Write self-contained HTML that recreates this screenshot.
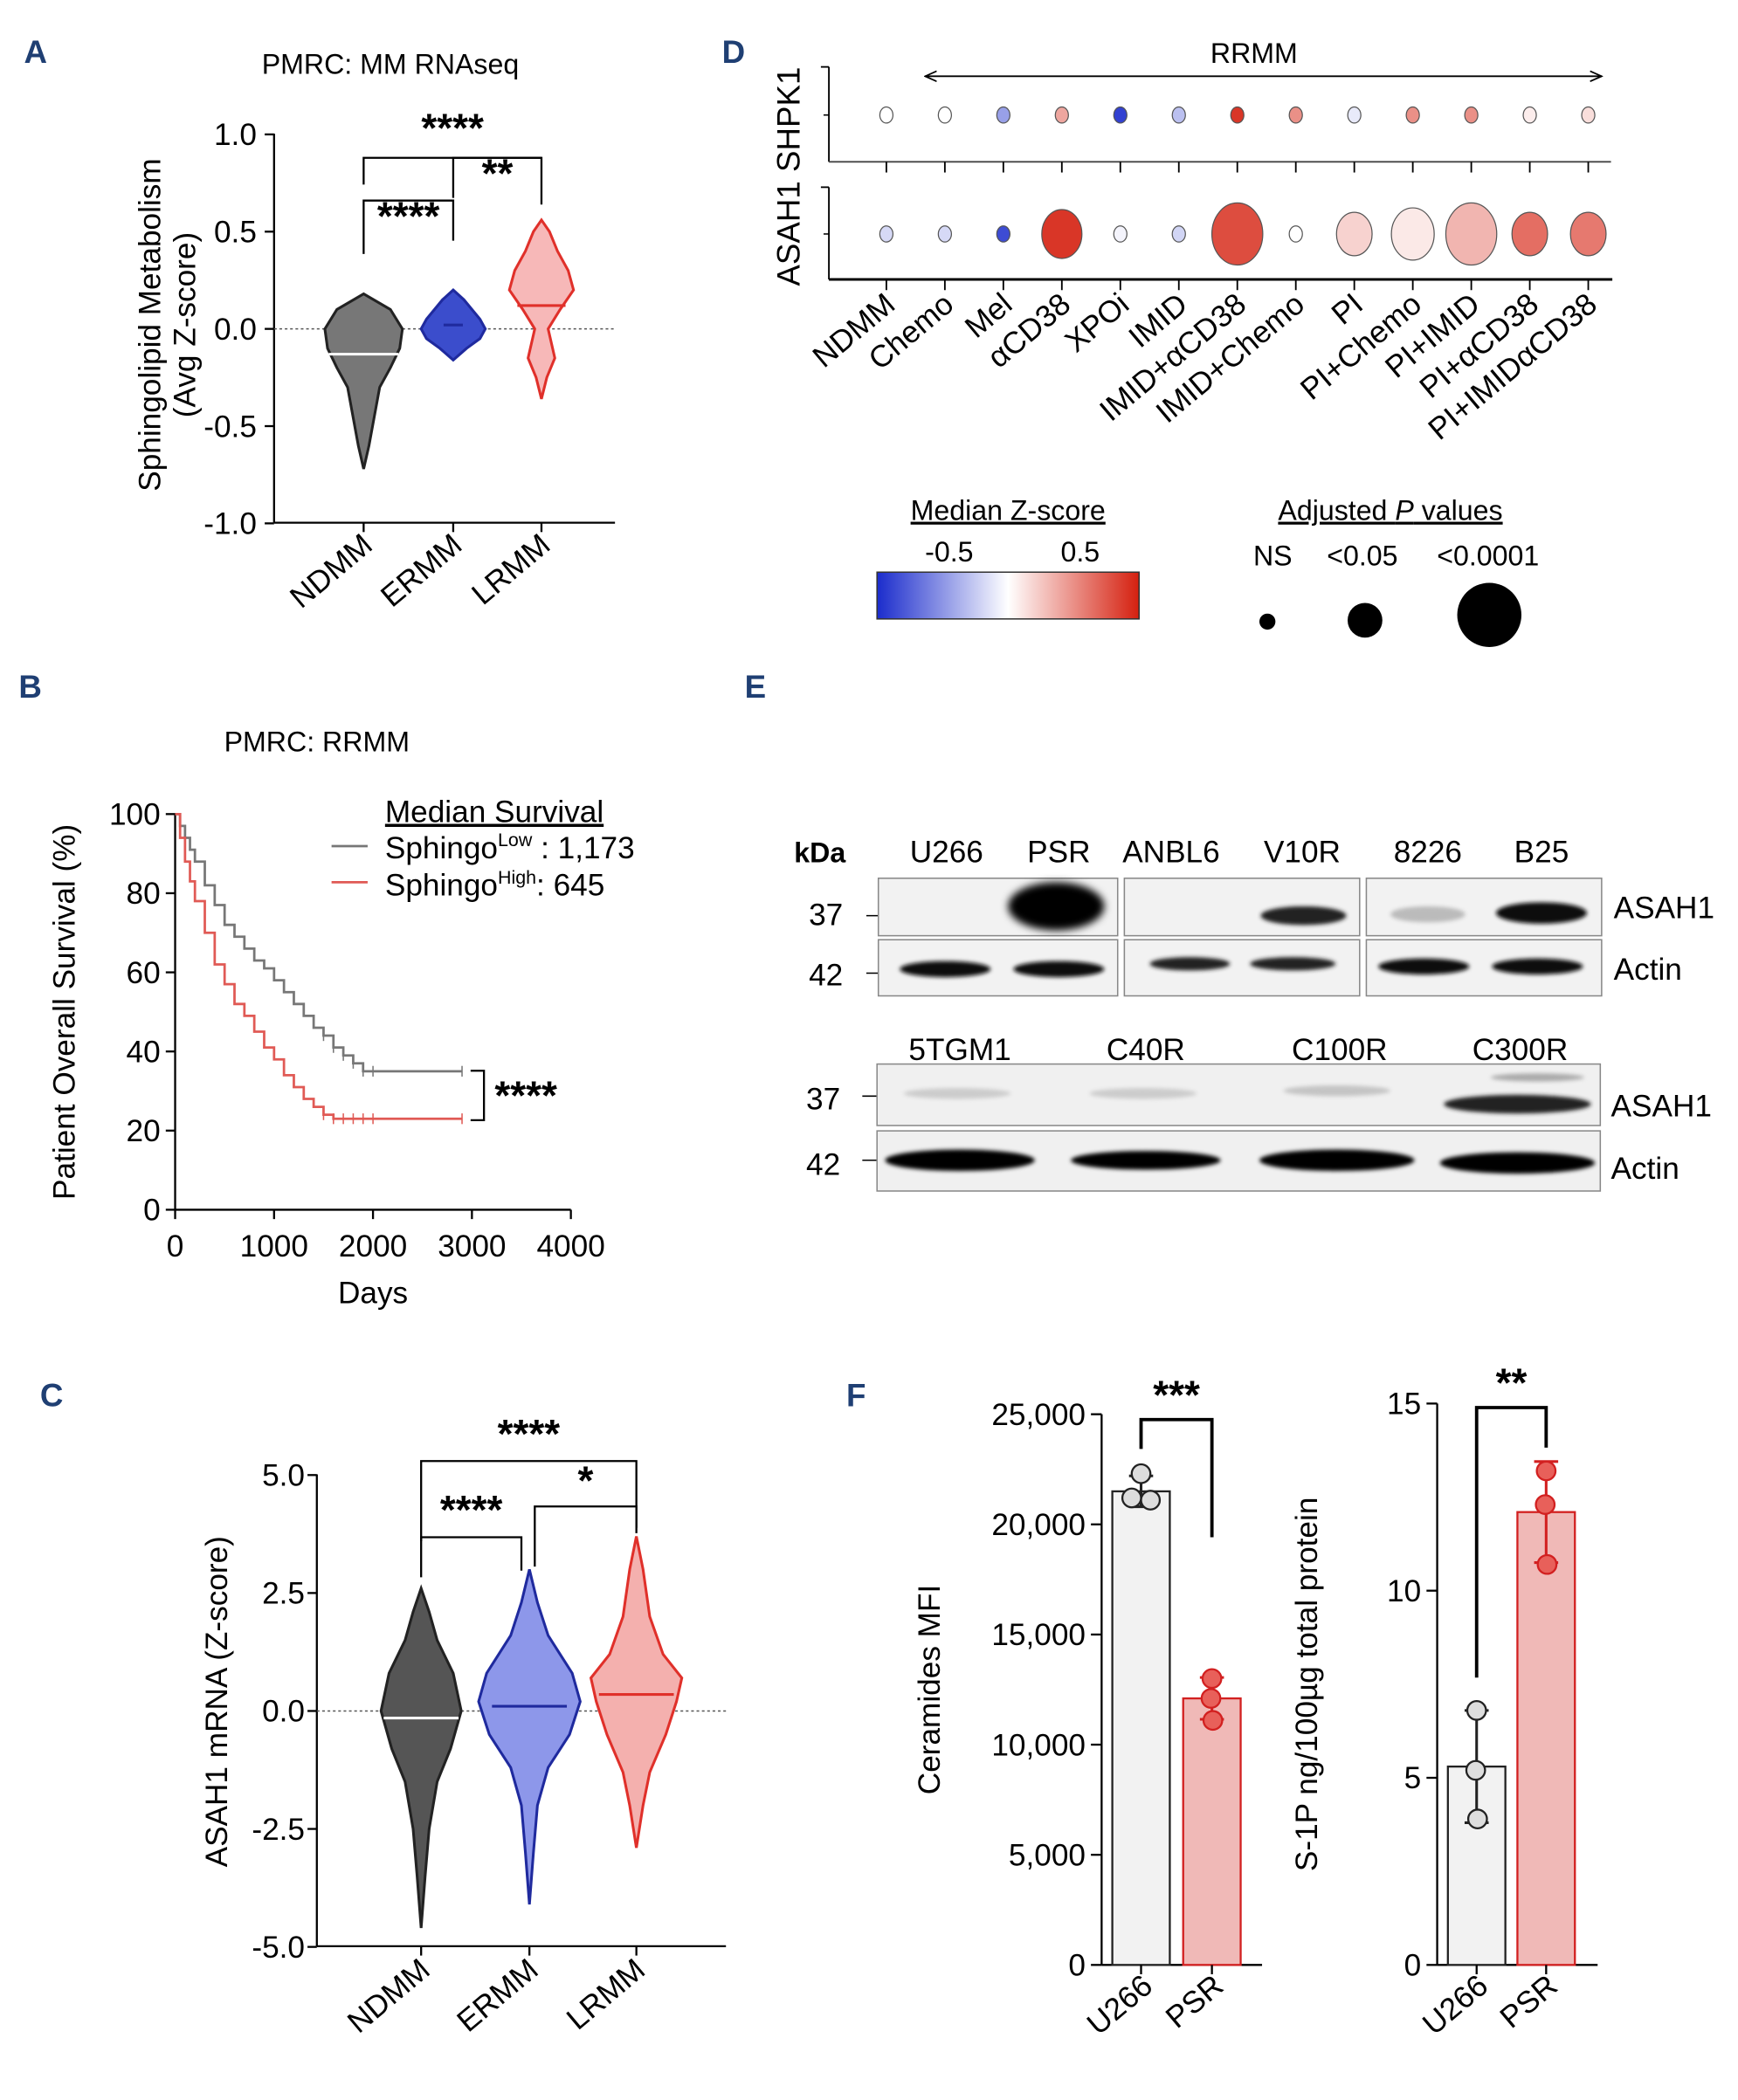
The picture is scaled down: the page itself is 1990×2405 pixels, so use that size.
<!DOCTYPE html>
<html><head><meta charset="utf-8"><style>
html,body{margin:0;padding:0;background:#fff}
svg{display:block;font-family:"Liberation Sans",sans-serif}
</style></head><body>
<svg id="fig" width="1990" height="2405" viewBox="0 0 1300 1571" xmlns="http://www.w3.org/2000/svg">
<defs>
<filter id="blur" x="-50%" y="-50%" width="200%" height="200%"><feGaussianBlur stdDeviation="3"/></filter>
<filter id="blur2" x="-50%" y="-50%" width="200%" height="200%"><feGaussianBlur stdDeviation="1.5"/></filter>
<linearGradient id="cbar" x1="0" x2="1" y1="0" y2="0">
<stop offset="0" stop-color="#1b2ccc"/><stop offset="0.5" stop-color="#ffffff"/><stop offset="1" stop-color="#d5200f"/>
</linearGradient>
<marker id="arr" viewBox="0 0 10 10" refX="9" refY="5" markerWidth="8" markerHeight="8" orient="auto-start-reverse"><path d="M0,1 L9,5 L0,9" fill="none" stroke="#000" stroke-width="1.2"/></marker>
</defs>
<g id="root"></g>
</svg>
<script>
// ---------- DATA ----------
const aCats = ["NDMM","ERMM","LRMM"];
const aViolinVals = [[-0.72,-0.6,-0.45,-0.3,-0.2,-0.1,0,0.1,0.18],[-0.16,-0.1,-0.05,0,0.05,0.1,0.15,0.2],[-0.36,-0.25,-0.15,0,0.1,0.2,0.3,0.4,0.5,0.56]];
const aViolinDens = [[0,4,8,12,20,27,29,20,0],[0,10,20,24,20,14,8,0],[0,4,10,5,14,24,20,12,6,0]];
const aMedians = [-0.13,0.02,0.12];
const aTicks = [1.0,0.5,0.0,-0.5,-1.0];

const kmTimes = [0,50,100,150,200,300,400,500,600,700,800,900,1000,1100,1200,1300,1400,1500,1600,1700,1800,1900,2000,2900];
const kmLow  = [100,97,94,91,88,82,77,72,69,66,63,61,58,55,52,49,46,44,41,39,37,35,35,35];
const kmHigh = [100,94,88,83,78,70,62,57,52,49,45,41,38,34,31,28,26,24,23,23,23,23,23,23];
const kmXTicks = [0,1000,2000,3000,4000];
const kmYTicks = [0,20,40,60,80,100];

const cCats = ["NDMM","ERMM","LRMM"];
const cViolinVals = [[-4.6,-3.5,-2.5,-1.5,-0.8,0,0.8,1.5,2.1,2.6],[-4.1,-3,-2,-1.2,-0.5,0.2,0.8,1.6,2.3,3.0],[-2.9,-2,-1.3,-0.5,0.2,0.7,1.2,2,3,3.7]];
const cViolinDens = [[0,3,6,12,22,30,24,12,6,0],[0,3,6,14,30,38,32,14,6,0],[0,5,10,22,30,34,20,10,5,0]];
const cMedians = [-0.15,0.1,0.35];
const cTicks = [5.0,2.5,0.0,-2.5,-5.0];

const dCats = ["NDMM","Chemo","Mel","αCD38","XPOi","IMID","IMID+αCD38","IMID+Chemo","PI","PI+Chemo","PI+IMID","PI+αCD38","PI+IMIDαCD38"];
const dShpk1Z = [0,0,-0.45,0.4,-0.9,-0.3,0.9,0.5,-0.1,0.5,0.5,0.08,0.15];
const dShpk1P = [0,0,0,0,0,0,0,0,0,0,0,0,0];
const dAsah1Z = [-0.18,-0.18,-0.85,0.9,-0.05,-0.2,0.8,0,0.2,0.1,0.33,0.65,0.6];
const dAsah1P = [0,0,0,3,0,0,4.2,0,2.5,3.3,4.2,2.5,2.5];

const fCats = ["U266","PSR"];
const fCerMeans = [21500,12100];
const fCerPts = [[22300,21200,21100],[13000,12100,11100]];
const fCerSD = [700,950];
const fCerTicks = [0,5000,10000,15000,20000,25000];
const fS1pMeans = [5.3,12.1];
const fS1pPts = [[6.8,5.2,3.9],[13.2,12.3,10.7]];
const fS1pSD = [1.5,1.35];
const fS1pTicks = [0,5,10,15];

// ---------- HELPERS ----------
const NS="http://www.w3.org/2000/svg";
const root=document.getElementById('root');
function el(tag,attrs,parent,text){const e=document.createElementNS(NS,tag);for(const k in attrs)e.setAttribute(k,attrs[k]);if(text!==undefined)e.textContent=text;(parent||root).appendChild(e);return e;}
function line(x1,y1,x2,y2,p,w,c){return el('line',{x1,y1,x2,y2,stroke:c||'#000','stroke-width':w||1.5},p);}
function txt(x,y,s,p,size,anchor,extra){const t=el('text',Object.assign({x,y,'font-size':size||23,'text-anchor':anchor||'start',fill:'#000'},extra||{}),p,s);return t;}
function violin(p,cx,vals,dens,ys,fill,stroke){let d='';const n=vals.length;for(let i=0;i<n;i++)d+=(i?'L':'M')+(cx+dens[i])+','+ys(vals[i]);for(let i=n-1;i>=0;i--)d+='L'+(cx-dens[i])+','+ys(vals[i]);d+='Z';return el('path',{d,fill,stroke,'stroke-width':2},p);}
function bracket(p,x1,x2,y,drop1,drop2,label,ly){el('path',{d:`M${x1},${y+drop1}L${x1},${y}L${x2},${y}L${x2},${y+drop2}`,fill:'none',stroke:'#000','stroke-width':1.5},p);txt((x1+x2)/2,ly,label,p,30,'middle',{'font-weight':'bold'});}
function lerp(a,b,t){return Math.round(a+(b-a)*t);}
function zColor(z){const t=Math.max(-1,Math.min(1,z));if(t<0){const u=-t;return `rgb(${lerp(255,27,u)},${lerp(255,44,u)},${lerp(255,204,u)})`;}return `rgb(${lerp(255,213,t)},${lerp(255,32,t)},${lerp(255,15,t)})`;}
function pLetter(x,y,s){const t=txt(x,y,s,root,24,'start',{'font-weight':'bold',fill:'#1f3f73'});}

// ---------- PANEL A ----------
pLetter(18,47,'A');
{const g=el('g',{});
const ys=v=>246-v*145.5; const xs=[272,339,405];
txt(292,55,'PMRC: MM RNAseq',g,21,'middle');
line(205,100,205,391,g);line(205,391,460,391,g);
aTicks.forEach(t=>{line(198,ys(t),205,ys(t),g);txt(192,ys(t)+8,t.toFixed(1),g,23,'end');});
line(205,246,460,246,g,1,'#555').setAttribute('stroke-dasharray','2,2');
const cols=[['#777','#222'],['#3b4dcc','#1f2a9e'],['#f7b8b8','#e0302a']];
aCats.forEach((c,i)=>{const v=violin(g,xs[i],aViolinVals[i],aViolinDens[i],ys,cols[i][0],cols[i][1]);
line(xs[i]-aViolinDens[i][6]*0.9,ys(aMedians[i]),xs[i]+aViolinDens[i][6]*0.9,ys(aMedians[i]),g,2,i==0?'#fff':cols[i][1]);
line(xs[i],391,xs[i],398,g);
txt(xs[i]+8,410,c,g,23,'end',{transform:`rotate(-40 ${xs[i]+8} 410)`});});
txt(0,0,'Sphingolipid Metabolism',g,23,'middle',{transform:'translate(120,243) rotate(-90)'});
txt(0,0,'(Avg Z-score)',g,23,'middle',{transform:'translate(146,243) rotate(-90)'});
bracket(g,272,405,118,20,0,'****',106);
bracket(g,339,405,118,30,35,'**',140);
bracket(g,272,339,150,40,30,'****',172);
}

// ---------- PANEL B ----------
pLetter(14,522,'B');
{const g=el('g',{});
const xs=t=>131+t*0.074, ys=v=>905-v*2.96;
txt(237,562,'PMRC: RRMM',g,21,'middle');
line(131,609,131,905,g);line(131,905,427,905,g);
kmYTicks.forEach(t=>{line(124,ys(t),131,ys(t),g);txt(120,ys(t)+8,t,g,23,'end');});
kmXTicks.forEach(t=>{line(xs(t),905,xs(t),912,g);txt(xs(t),940,t,g,23,'middle');});
txt(279,975,'Days',g,23,'middle');
txt(0,0,'Patient Overall Survival (%)',g,23,'middle',{transform:'translate(56,757) rotate(-90)'});
function km(arr,c,name){let d='M'+xs(kmTimes[0])+','+ys(arr[0]);for(let i=1;i<kmTimes.length;i++){d+='H'+xs(kmTimes[i])+'V'+ys(arr[i]);}const p=el('path',{d,fill:'none',stroke:c,'stroke-width':1.8},g);
for(let i=17;i<kmTimes.length;i++)line(xs(kmTimes[i]),ys(arr[i])-4,xs(kmTimes[i]),ys(arr[i])+4,g,1,c);}
km(kmLow,'#777','km-curve-low');km(kmHigh,'#e05a55','km-curve-high');
el('path',{d:'M352,801H362V838H352',fill:'none',stroke:'#000','stroke-width':1.5},g);
txt(370,830,'****',g,30,'start',{'font-weight':'bold'});
const lg=el('g',{},g);
txt(288,615,'Median Survival',lg,23,'start',{'text-decoration':'underline'});
line(248,633,275,633,lg,1.8,'#777');line(248,660,275,660,lg,1.8,'#e05a55');
const t1=txt(288,642,'Sphingo',lg,23);el('tspan',{'font-size':14,dy:-9},t1,'Low');el('tspan',{dy:9},t1,' : 1,173');
const t2=txt(288,670,'Sphingo',lg,23);el('tspan',{'font-size':14,dy:-9},t2,'High');el('tspan',{dy:9},t2,': 645');
}

// ---------- PANEL C ----------
pLetter(30,1052,'C');
{const g=el('g',{});
const ys=v=>1280-v*35.3; const xs=[315,396,476];
line(237,1103,237,1456,g);line(237,1456,543,1456,g);
cTicks.forEach(t=>{line(230,ys(t),237,ys(t),g);txt(228,ys(t)+8,t.toFixed(1),g,23,'end');});
line(237,1280,543,1280,g,1,'#555').setAttribute('stroke-dasharray','2,2');
const cols=[['#555','#222'],['#8d97ea','#1f2a9e'],['#f4b0ae','#e0302a']];
cCats.forEach((c,i)=>{const v=violin(g,xs[i],cViolinVals[i],cViolinDens[i],ys,cols[i][0],cols[i][1]);
line(xs[i]-28,ys(cMedians[i]),xs[i]+28,ys(cMedians[i]),g,2,i==0?'#fff':cols[i][1]);
line(xs[i],1456,xs[i],1463,g);
txt(xs[i]+8,1476,c,g,23,'end',{transform:`rotate(-40 ${xs[i]+8} 1476)`});});
txt(0,0,'ASAH1 mRNA (Z-score)',g,23,'middle',{transform:'translate(170,1273) rotate(-90)'});
bracket(g,315,476,1093,60,50,'****',1083);
bracket(g,400,476,1127,45,20,'*',1118);
bracket(g,315,390,1150,30,25,'****',1140);
}

// ---------- PANEL D ----------
pLetter(540,47,'D');
{const g=el('g',{});
const xs=i=>663+i*43.75;
const rr=p=>6+p*4.1;
txt(938,47,'RRMM',g,21,'middle');
el('line',{x1:692,y1:57,x2:1198,y2:57,stroke:'#000','stroke-width':1.2,'marker-start':'url(#arr)','marker-end':'url(#arr)'},g);
line(620,50,620,121,g,1.2);line(620,121,1205,121,g,1.2,'#444');line(614,50,620,50,g,1.2);line(616,86,620,86,g,1);
line(620,140,620,209,g,1.2);line(620,209,1206,209,g,2);line(614,140,620,140,g,1.2);line(616,175,620,175,g,1);
txt(0,0,'ASAH1 SHPK1',g,24,'middle',{transform:'translate(598,132) rotate(-90)'});
dCats.forEach((c,i)=>{line(xs(i),121,xs(i),129,g,1.2);line(xs(i),209,xs(i),217,g,1.2);
let e=el('ellipse',{cx:xs(i),cy:86,rx:rr(dShpk1P[i])*0.82,ry:rr(dShpk1P[i]),fill:zColor(dShpk1Z[i]),stroke:'#555','stroke-width':0.8},g);

e=el('ellipse',{cx:xs(i),cy:175,rx:rr(dAsah1P[i])*0.82,ry:rr(dAsah1P[i]),fill:zColor(dAsah1Z[i]),stroke:'#555','stroke-width':0.8},g);

txt(xs(i)+8,230,c,g,23,'end',{transform:`rotate(-40 ${xs(i)+8} 230)`});});
const lg=el('g',{},g);
txt(754,389,'Median Z-score',lg,21,'middle',{'text-decoration':'underline'});
txt(710,420,'-0.5',lg,21,'middle');txt(808,420,'0.5',lg,21,'middle');
el('rect',{x:656,y:428,width:196,height:35,fill:'url(#cbar)',stroke:'#333','stroke-width':1},lg);
const sl=el('g',{},g);
const tt=txt(1040,389,'Adjusted ',sl,21,'middle',{'text-decoration':'underline'});
el('tspan',{'font-style':'italic'},tt,'P');el('tspan',{},tt,' values');
txt(952,423,'NS',sl,21,'middle');txt(1019,423,'<0.05',sl,21,'middle');txt(1113,423,'<0.0001',sl,21,'middle');
el('circle',{cx:948,cy:465,r:6,fill:'#000'},sl);el('circle',{cx:1021,cy:464,r:13,fill:'#000'},sl);el('circle',{cx:1114,cy:460,r:24,fill:'#000'},sl);
}

// ---------- PANEL E ----------
pLetter(557,522,'E');
{const g=el('g',{});
txt(594,645,'kDa',g,21,'start',{'font-weight':'bold'});
[['U266',708],['PSR',792],['ANBL6',876],['V10R',974],['8226',1068],['B25',1153]].forEach(([s,x])=>txt(x,645,s,g,23,'middle'));
[['5TGM1',718],['C40R',857],['C100R',1002],['C300R',1137]].forEach(([s,x])=>txt(x,793,s,g,23,'middle'));
txt(605,692,'37',g,23);txt(605,737,'42',g,23);txt(603,830,'37',g,23);txt(603,879,'42',g,23);
line(648,685,657,685,g,1);line(648,728,657,728,g,1);line(645,820,656,820,g,1);line(645,868,656,868,g,1);
txt(1207,687,'ASAH1',g,23);txt(1207,733,'Actin',g,23);txt(1205,835,'ASAH1',g,23);txt(1205,882,'Actin',g,23);
[[657,836],[841,1017],[1022,1198]].forEach(([a,b])=>{el('rect',{x:a,y:657,width:b-a,height:43,fill:'#f2f2f2',stroke:'#888'},g);el('rect',{x:a,y:703,width:b-a,height:42,fill:'#f2f2f2',stroke:'#888'},g);});
el('rect',{x:656,y:796,width:541,height:46,fill:'#f0f0f0',stroke:'#888'},g);el('rect',{x:656,y:846,width:541,height:45,fill:'#f0f0f0',stroke:'#888'},g);
const bands=[[790,678,36,18,'#000'],[975,685,32,7,'#222'],[1068,684,28,6,'#bbb'],[1153,683,34,8,'#111'],
[707,725,34,6,'#111'],[792,725,34,6,'#111'],[890,721,30,5,'#222'],[967,721,32,5,'#222'],[1065,723,34,6,'#111'],[1150,723,34,6,'#111'],
[716,818,40,4,'#ccc'],[855,818,40,4,'#ccc'],[1000,816,40,4,'#c4c4c4'],[1135,826,55,7,'#222'],[1150,806,35,3,'#aaa'],
[718,868,56,8,'#000'],[857,868,56,7,'#000'],[1000,868,58,8,'#000'],[1135,870,58,8,'#000']];
bands.forEach(b=>el('ellipse',{cx:b[0],cy:b[1],rx:b[2],ry:b[3],fill:b[4],filter:b[3]>10?'url(#blur)':'url(#blur2)'},g));
}

// ---------- PANEL F ----------
pLetter(633,1052,'F');
function barChart(name,x0,yTop,maxV,means,pts,sd,ticks,fmt,ylab,ylabX,bx,sig,sigY,sigTop){
const g=el('g',{});
const ys=v=>1470-v/maxV*(1470-yTop);
line(x0,yTop,x0,1470,g);line(x0,1470,x0+120,1470,g);
ticks.forEach(t=>{line(x0-8,ys(t),x0,ys(t),g);txt(x0-12,ys(t)+8,fmt(t),g,23,'end');});
txt(0,0,ylab,g,23,'middle',{transform:`translate(${ylabX},${(yTop+1470)/2}) rotate(-90)`});
const fills=['#f2f2f2','#f0b9b7'],strokes=['#222','#d22020'];
fCats.forEach((c,i)=>{const x=bx[i];const r=el('rect',{x:x,y:ys(means[i]),width:43,height:1470-ys(means[i]),fill:fills[i],stroke:strokes[i],'stroke-width':1.5},g);

const cx=x+21.5;line(cx,ys(means[i]+sd[i]),cx,ys(means[i]-sd[i]),g,2,strokes[i]);line(cx-9,ys(means[i]+sd[i]),cx+9,ys(means[i]+sd[i]),g,2,strokes[i]);line(cx-9,ys(means[i]-sd[i]),cx+9,ys(means[i]-sd[i]),g,2,strokes[i]);
pts[i].forEach((v,j)=>el('circle',{cx:cx+(j==0?0:(j==1?-7:7))*(i==0&&name=='ceramides-chart'?1:0.1),cy:ys(v),r:7,fill:i?'#e8605a':'#ddd',stroke:strokes[i],'stroke-width':1.5},g));
line(cx,1470,cx,1477,g);txt(cx+10,1488,c,g,23,'end',{transform:`rotate(-40 ${cx+10} 1488)`});});
const c0=bx[0]+21.5,c1=bx[1]+21.5;
el('path',{d:`M${c0},${sigY[0]}V${sigTop}H${c1}V${sigY[1]}`,fill:'none',stroke:'#000','stroke-width':2.5},g);
txt((c0+c1)/2,sigTop-8,sig,g,30,'middle',{'font-weight':'bold'});
}
barChart('ceramides-chart',824,1058,25000,fCerMeans,fCerPts,fCerSD,fCerTicks,t=>t.toLocaleString('en-US'),'Ceramides MFI',703,[832,885],'***',[1084,1150],1062);
barChart('s1p-chart',1075,1050,15,fS1pMeans,fS1pPts,fS1pSD,fS1pTicks,t=>t,'S-1P ng/100µg total protein',985,[1083,1135],'**',[1255,1083],1053);
</script>
</body></html>
